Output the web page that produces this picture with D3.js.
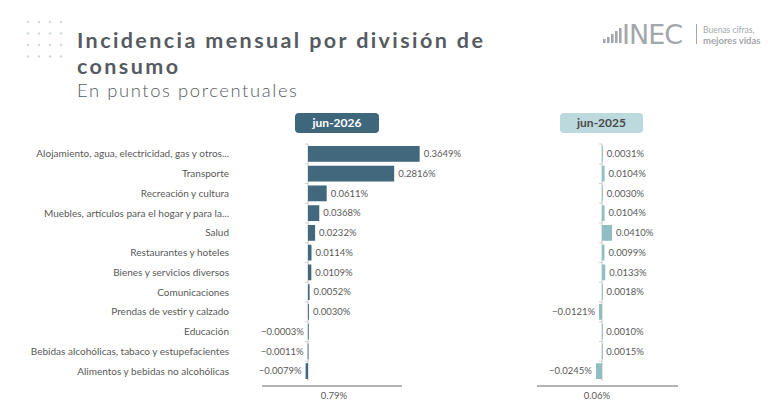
<!DOCTYPE html>
<html><head><meta charset="utf-8">
<script src="https://cdn.jsdelivr.net/npm/d3@7"></script>
<style>
html,body{margin:0;padding:0;background:#fff;}
svg{display:block;font-family:"Lato","Open Sans",sans-serif;}
</style></head>
<body><svg id="c" width="768" height="402"></svg>
<script>
const categories = [
  "Alojamiento, agua, electricidad, gas y otros...",
  "Transporte",
  "Recreación y cultura",
  "Muebles, artículos para el hogar y para la...",
  "Salud",
  "Restaurantes y hoteles",
  "Bienes y servicios diversos",
  "Comunicaciones",
  "Prendas de vestir y calzado",
  "Educación",
  "Bebidas alcohólicas, tabaco y estupefacientes",
  "Alimentos y bebidas no alcohólicas"
];
const values2026 = [0.3649, 0.2816, 0.0611, 0.0368, 0.0232, 0.0114, 0.0109, 0.0052, 0.0030, -0.0003, -0.0011, -0.0079];
const values2025 = [0.0031, 0.0104, 0.0030, 0.0104, 0.0410, 0.0099, 0.0133, 0.0018, -0.0121, 0.0010, 0.0015, -0.0245];
const periods = ["jun-2026", "jun-2025"];
const totals = ["0.79%", "0.06%"];
const titleLines = ["Incidencia mensual por división de", "consumo"];
const subtitle = "En puntos porcentuales";

const svg = d3.select("#c");
const fmt = v => d3.format(".4f")(v) + "%";
const textCol = "#595959";

// decoration dots
const dotIdx = d3.range(4);
dotIdx.forEach(i => dotIdx.forEach(j => {
  svg.append("circle").attr("cx", 28 + j * 11).attr("cy", 22 + i * 11.5).attr("r", 1.2).attr("fill", "#cfdbe2");
}));

// title
svg.append("text").attr("x", 77).attr("y", 48).text(titleLines[0])
  .attr("font-size", 21.5).attr("letter-spacing", 2.4).attr("font-weight", 700).attr("fill", "#565b61");
svg.append("text").attr("x", 77).attr("y", 74).text(titleLines[1])
  .attr("font-size", 21.5).attr("letter-spacing", 2.4).attr("font-weight", 700).attr("fill", "#565b61");
svg.append("text").attr("x", 77).attr("y", 97).text(subtitle)
  .attr("font-size", 18.4).attr("letter-spacing", 1.6).attr("font-weight", 300).attr("fill", "#565b61");

// logo
const logo = svg.append("g").attr("fill", "#a3a7ab");
[4, 6, 9, 12, 15].forEach((h, i) => {
  logo.append("rect").attr("x", 603 + i * 4).attr("y", 43 - h).attr("width", 2.6).attr("height", h);
});
logo.append("text").attr("x", 622).attr("y", 44).text("INEC")
  .attr("font-size", 27).attr("font-weight", 400).attr("font-family", "DejaVu Sans").attr("letter-spacing", -1);
logo.append("rect").attr("x", 696).attr("y", 24).attr("width", 1).attr("height", 20);
logo.append("text").attr("x", 703).attr("y", 33).text("Buenas cifras,").attr("font-size", 8.5);
logo.append("text").attr("x", 703).attr("y", 44).text("mejores vidas").attr("font-size", 9.5).attr("font-weight", 700);

// category labels
const y = d3.scaleBand().domain(categories).range([144, 381]).paddingInner(0.2).paddingOuter(0.1);
svg.append("g").selectAll("text").data(categories).join("text")
  .attr("x", 229).attr("y", d => y(d) + y.bandwidth() / 2)
  .attr("dy", "0.35em").attr("text-anchor", "end")
  .attr("font-size", 10).attr("fill", textCol).text(d => d);

function panel(vals, opt) {
  const x = d3.scaleLinear().domain([0, 1]).range([opt.x0, opt.x0 + opt.k]);
  const g = svg.append("g");
  // header
  g.append("rect").attr("x", opt.hx).attr("y", 113).attr("width", opt.hw).attr("height", 20).attr("rx", 4)
    .attr("fill", opt.hfill);
  g.append("text").attr("x", opt.hx + opt.hw / 2).attr("y", 127).attr("text-anchor", "middle")
    .attr("font-size", 12).attr("font-weight", 700).attr("fill", opt.htext).text(opt.period);
  // axis
  const axis = d3.axisLeft(y).tickSize(3).tickFormat("");
  const ax = g.append("g").attr("transform", `translate(${x(0)},0)`).call(axis);
  ax.select(".domain").attr("stroke", "#c8c8c8");
  ax.selectAll(".tick").attr("transform", d => `translate(0,${y(d) - y.step() * y.paddingInner() / 2})`);
  ax.selectAll(".tick line").attr("stroke", "#d0d0d0");
  ax.selectAll(".domain").attr("d", `M0,${144}V${381}`);
  // bars
  g.selectAll("rect.bar").data(vals).join("rect").attr("class", "bar")
    .attr("x", d => x(Math.min(0, d))).attr("y", (d, i) => y(categories[i]))
    .attr("width", d => Math.max(0.8, Math.abs(x(d) - x(0)))).attr("height", y.bandwidth())
    .attr("fill", opt.bar);
  g.selectAll("text.val").data(vals).join("text").attr("class", "val")
    .attr("x", d => d >= 0 ? x(d) + 4 : x(d) - 4)
    .attr("y", (d, i) => y(categories[i]) + y.bandwidth() / 2).attr("dy", "0.35em")
    .attr("text-anchor", d => d >= 0 ? "start" : "end")
    .attr("font-size", 9.5).attr("fill", textCol).text(d => fmt(d));
  // total
  g.append("rect").attr("x", opt.lx1).attr("y", 385).attr("width", opt.lx2 - opt.lx1).attr("height", 2).attr("fill", "#b4b4b4");
  g.append("text").attr("x", opt.tx).attr("y", 399).attr("text-anchor", "middle")
    .attr("font-size", 9.5).attr("fill", textCol).text(opt.total);
}

panel(values2026, {x0: 308, k: 306, hx: 295, hw: 84, hfill: "#3f677c", htext: "#ffffff", period: periods[0],
  bar: "#41687d", lx1: 262, lx2: 402, tx: 334, total: totals[0]});
panel(values2025, {x0: 602, k: 245, hx: 560, hw: 83, hfill: "#bcd9dd", htext: "#4a4a4a", period: periods[1],
  bar: "#8fbfc2", lx1: 537, lx2: 678, tx: 597, total: totals[1]});
</script></body></html>
